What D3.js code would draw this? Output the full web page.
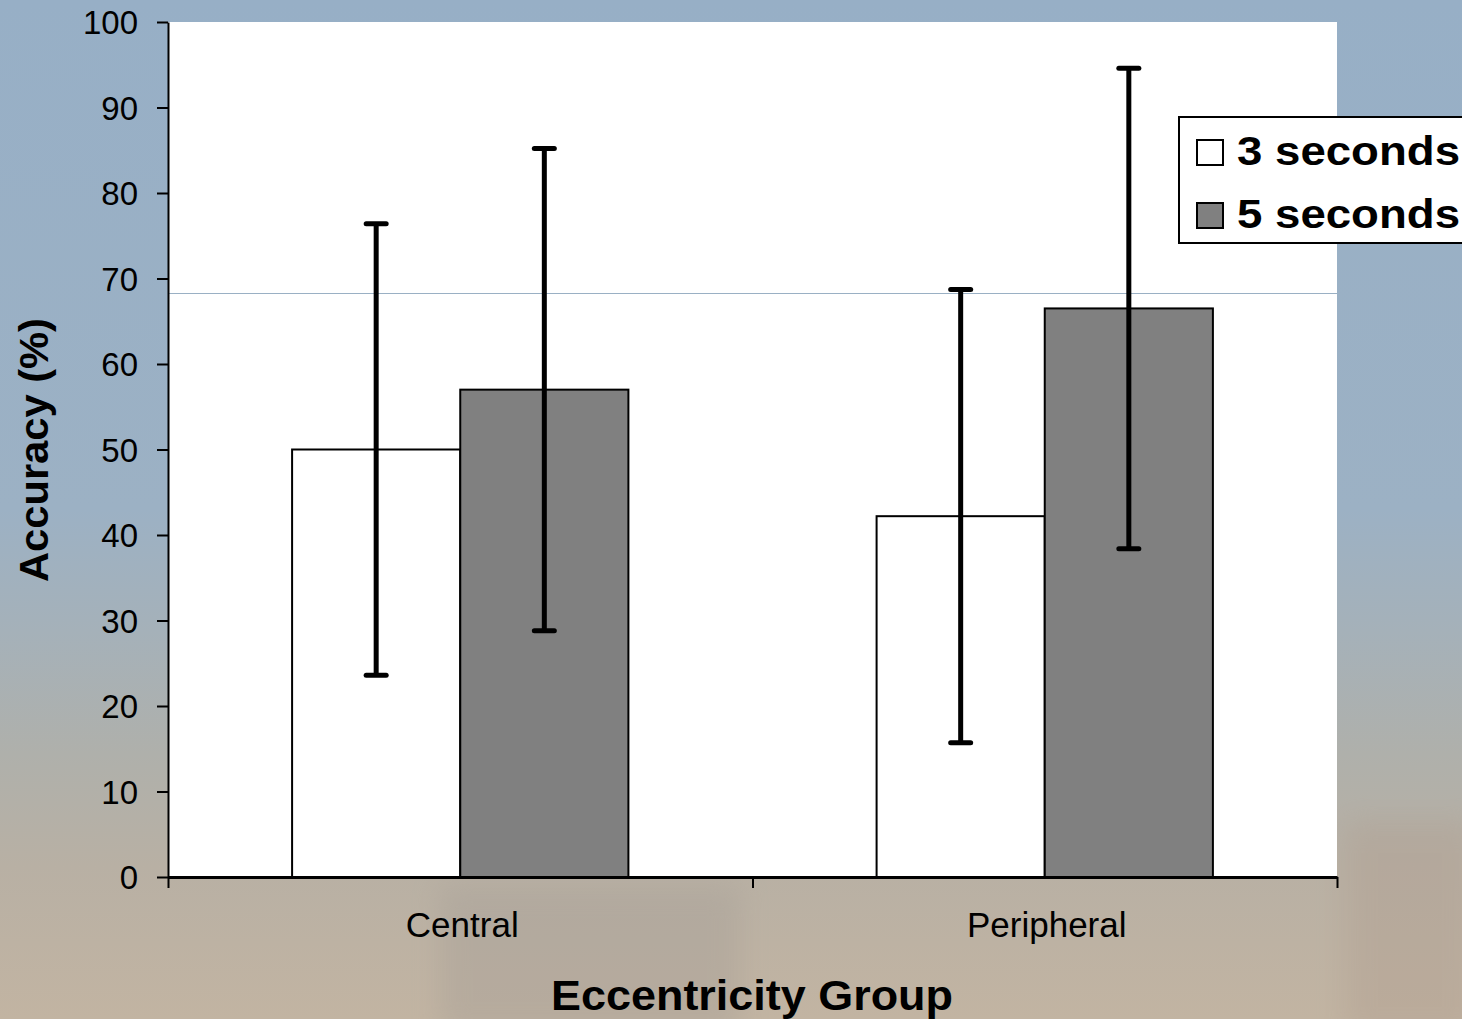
<!DOCTYPE html>
<html>
<head>
<meta charset="utf-8">
<script src="https://cdn.jsdelivr.net/npm/d3@7"></script>
<style>
  html, body { margin: 0; padding: 0; overflow: hidden; }
  svg { display: block; font-family: "Liberation Sans", Arial, sans-serif; }
</style>
</head>
<body>
<svg id="chart" width="1462" height="1019"></svg>
<script>
// Accuracy by eccentricity group and presentation time
const groups = ["Central", "Peripheral"];
const seriesNames = ["3 seconds", "5 seconds"];
const seriesColors = ["#ffffff", "#808080"];
const means3 = [50.0, 42.2];
const means5 = [57.0, 66.5];
const err3 = [26.4, 26.5];
const err5 = [28.2, 28.1];
const yTicks = [0, 10, 20, 30, 40, 50, 60, 70, 80, 90, 100];

(function draw() {
  const svg = d3.select("#chart");
  const W = 1462, H = 1019;
  const plotLeft = 168, plotRight = 1337, plotTop = 22, plotBottom = 877;

  // Backdrop: sky fading into a sandy ground
  const defs = svg.append("defs");
  const bg = defs.append("linearGradient").attr("id", "bg").attr("x1", 0).attr("y1", 0).attr("x2", 0).attr("y2", 1);
  [[0, "#97afc6"], [0.5, "#9cb1c4"], [0.62, "#a5b1b9"], [0.74, "#afb0ab"], [0.85, "#b8b0a4"], [1, "#c2b4a2"]]
    .forEach(([o, c]) => bg.append("stop").attr("offset", o).attr("stop-color", c));
  const blur = defs.append("filter").attr("id", "soft").attr("x", "-20%").attr("y", "-20%").attr("width", "140%").attr("height", "140%");
  blur.append("feGaussianBlur").attr("stdDeviation", 14);
  svg.append("rect").attr("width", W).attr("height", H).attr("fill", "url(#bg)");
  const haze = svg.append("g").attr("filter", "url(#soft)").attr("opacity", 0.35);
  haze.append("rect").attr("x", 1345).attr("y", 820).attr("width", 130).attr("height", 220).attr("fill", "#ae9c8e");
  haze.append("rect").attr("x", 440).attr("y", 885).attr("width", 300).attr("height", 150).attr("fill", "#a39c95");

  // Plot area
  svg.append("rect").attr("x", plotLeft).attr("y", plotTop).attr("width", plotRight - plotLeft).attr("height", plotBottom - plotTop).attr("fill", "#ffffff");
  svg.append("line").attr("x1", plotLeft + 1).attr("x2", plotRight).attr("y1", 293.5).attr("y2", 293.5)
    .attr("stroke", "#9ab0c4").attr("stroke-width", 1);

  const x0 = d3.scaleBand().domain(groups).range([plotLeft, plotRight]).paddingInner(0).paddingOuter(0);
  const x1 = d3.scaleBand().domain(seriesNames).range([0, x0.bandwidth()]).paddingInner(0).paddingOuter(0.738);
  const y = d3.scaleLinear().domain([0, 100]).range([plotBottom, plotTop]);

  const data = groups.map((g, i) => ({
    group: g,
    values: [
      { name: seriesNames[0], mean: means3[i], err: err3[i], color: seriesColors[0] },
      { name: seriesNames[1], mean: means5[i], err: err5[i], color: seriesColors[1] }
    ]
  }));

  const gGroups = svg.append("g").selectAll("g").data(data).join("g")
    .attr("transform", d => `translate(${x0(d.group)},0)`);

  gGroups.selectAll("rect").data(d => d.values).join("rect")
    .attr("x", d => x1(d.name))
    .attr("y", d => y(d.mean))
    .attr("width", x1.bandwidth())
    .attr("height", d => y(0) - y(d.mean))
    .attr("fill", d => d.color)
    .attr("stroke", "#000").attr("stroke-width", 2);

  // Error bars
  const eb = gGroups.selectAll("g.err").data(d => d.values).join("g").attr("class", "err")
    .attr("transform", d => `translate(${x1(d.name) + x1.bandwidth() / 2},0)`)
    .attr("stroke", "#000").attr("stroke-width", 5).attr("stroke-linecap", "round");
  eb.append("line").attr("x1", 0).attr("x2", 0).attr("y1", d => y(d.mean + d.err)).attr("y2", d => y(d.mean - d.err)).attr("stroke-linecap", "butt");
  eb.append("line").attr("x1", -10).attr("x2", 10).attr("y1", d => y(d.mean + d.err)).attr("y2", d => y(d.mean + d.err));
  eb.append("line").attr("x1", -10).attr("x2", 10).attr("y1", d => y(d.mean - d.err)).attr("y2", d => y(d.mean - d.err));

  // Axes
  const yAxis = svg.append("g").attr("transform", `translate(${plotLeft},0)`)
    .call(d3.axisLeft(y).tickValues(yTicks).tickSize(11).tickPadding(19).tickSizeOuter(0));
  yAxis.select(".domain").attr("stroke", "#000").attr("stroke-width", 2);
  yAxis.selectAll(".tick line").attr("stroke", "#000").attr("stroke-width", 2);
  yAxis.selectAll(".tick text").attr("font-size", 33).attr("fill", "#000").attr("font-family", "Liberation Sans, Arial, sans-serif").attr("dy", "0.35em");

  const xEdges = d3.scaleLinear().domain([0, groups.length]).range([plotLeft, plotRight]);
  const xAxis = svg.append("g").attr("transform", `translate(0,${plotBottom})`)
    .call(d3.axisBottom(xEdges).tickValues(d3.range(groups.length + 1)).tickSize(11).tickFormat("").tickSizeOuter(0));
  xAxis.select(".domain").attr("stroke", "#000").attr("stroke-width", 3);
  xAxis.selectAll(".tick line").attr("stroke", "#000").attr("stroke-width", 2);

  svg.append("g").selectAll("text").data(groups).join("text")
    .attr("x", d => x0(d) + x0.bandwidth() / 2 + 2)
    .attr("y", 937)
    .attr("text-anchor", "middle")
    .attr("font-size", 35)
    .attr("fill", "#000")
    .text(d => d);

  // Axis titles
  svg.append("text").attr("x", 752).attr("y", 1010).attr("text-anchor", "middle")
    .attr("font-size", 42).attr("font-weight", "bold").attr("fill", "#000")
    .attr("textLength", 402).attr("lengthAdjust", "spacingAndGlyphs")
    .text("Eccentricity Group");
  svg.append("text").attr("transform", "translate(48,450) rotate(-90)").attr("text-anchor", "middle")
    .attr("font-size", 41).attr("font-weight", "bold").attr("fill", "#000")
    .attr("textLength", 264).attr("lengthAdjust", "spacingAndGlyphs")
    .text("Accuracy (%)");

  // Legend
  const lg = svg.append("g");
  lg.append("rect").attr("x", 1179).attr("y", 117).attr("width", 300).attr("height", 126)
    .attr("fill", "#fff").attr("stroke", "#000").attr("stroke-width", 2);
  const items = lg.selectAll("g.item").data(seriesNames).join("g").attr("class", "item")
    .attr("transform", (d, i) => `translate(0,${i * 63})`);
  items.append("rect").attr("x", 1197).attr("y", 140).attr("width", 26).attr("height", 25)
    .attr("fill", (d, i) => seriesColors[i]).attr("stroke", "#000").attr("stroke-width", 2);
  items.append("text").attr("x", 1237).attr("y", 165)
    .attr("font-size", 40).attr("font-weight", "bold").attr("fill", "#000")
    .attr("textLength", 223).attr("lengthAdjust", "spacingAndGlyphs")
    .text(d => d);
})();
</script>
</body>
</html>
